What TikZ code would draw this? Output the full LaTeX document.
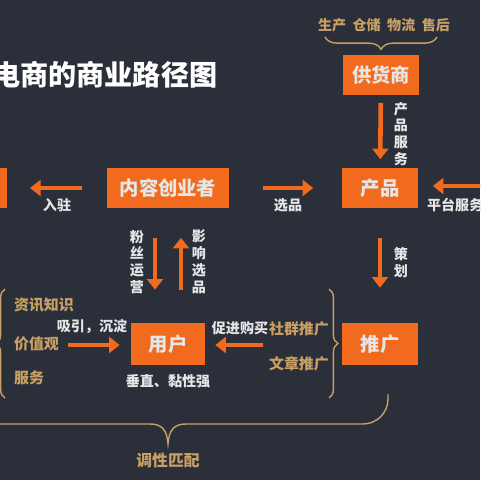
\documentclass[tikz,border=0pt]{standalone}
\usepackage{fontspec}
\setmainfont{Noto Sans CJK SC}
\usetikzlibrary{positioning,arrows.meta,decorations.pathreplacing}
\definecolor{bgnavy}{HTML}{2B2F3A}
\definecolor{boxorange}{HTML}{F26A1D}
\definecolor{goldtxt}{HTML}{C8A064}
\definecolor{softwhite}{HTML}{E6E6E6}
\tikzset{
  box/.style={fill=boxorange,text=softwhite,minimum width=1.54cm,minimum height=0.82cm,inner sep=0pt,font=\fontsize{11}{13}\selectfont\bfseries},
  flow/.style={boxorange,line width=2.6pt,-{Triangle[length=6pt,width=9pt]}},
  lbl/.style={text=softwhite,inner sep=1pt,font=\fontsize{8}{9}\selectfont\bfseries},
  vlbl/.style={lbl,align=center,font=\fontsize{8}{9.6}\selectfont\bfseries},
  gold/.style={text=goldtxt,inner sep=1pt,font=\fontsize{8.5}{10}\selectfont\bfseries},
  goldline/.style={goldtxt,line width=0.8pt},
  brc/.style={goldline,decorate,decoration={brace,amplitude=5pt}}
}
\begin{document}
\begin{tikzpicture}[x=0.02cm,y=-0.02cm]
  \useasboundingbox (0,0) rectangle (480,480);
  \clip (0,0) rectangle (480,480);
  \fill[bgnavy] (0,0) rectangle (480,480);
  % title
  \node(title) [anchor=west,text=white,inner sep=0pt,font=\fontsize{16}{18}\selectfont\bfseries] at (-8,75) {电商的商业路径图};
  % boxes
  \node(supplier) [box] at (381,75) {供货商};
  \node(product) [box] at (380,188) {产品};
  \node(creator) [box,minimum width=2.44cm] at (168,188) {内容创业者};
  \node(platform) [box,anchor=east] at (7,188) {};
  \node(user) [box,minimum height=0.84cm,minimum width=1.48cm] at (168,344) {用户};
  \node(promo) [box,minimum height=0.84cm] at (380,344) {推广};
  % supplier chain
  \node(chain) [gold,font=\fontsize{8}{9}\selectfont\bfseries] at (384,25) {生产\ \ 仓储\ \ 物流\ \ 售后};
  \draw [brc,decoration={amplitude=7pt}] (437,37) -- (325,37);
  \draw [flow,shorten <=0.14cm,shorten >=0.16cm] (supplier) -- (product);
  \node(svc) [vlbl] at (401,134) {产\\品\\服\\务};
  % platform services
  \coordinate(edge) at (484,186);
  \draw [flow,shorten >=0.28cm] (edge) -- (product.east |- edge);
  \node(plat) [lbl,anchor=west] at (425,205) {平台服务};
  % creator links
  \draw [flow,shorten <=0.68cm,shorten >=0.56cm] (creator) -- (product);
  \node(pick) [lbl] at (288,205) {选品};
  \draw [flow,shorten <=0.5cm,shorten >=0.46cm] (creator) -- (platform);
  \node(join) [lbl] at (57,205) {入驻};
  \draw [flow,shorten <=0.58cm,shorten >=0.66cm] ([xshift=-0.26cm]creator.south) -- ([xshift=-0.26cm]user.north);
  \draw [flow,shorten <=0.66cm,shorten >=0.58cm] ([xshift=0.26cm]user.north) -- ([xshift=0.26cm]creator.south);
  \node(fans) [vlbl] at (137,262) {粉\\丝\\运\\营};
  \node(sway) [vlbl] at (199,262) {影\\响\\选\\品};
  % planning
  \draw [flow,shorten <=0.58cm,shorten >=0.7cm] (product) -- (promo);
  \node(plan) [vlbl] at (401,263) {策\\划};
  % user side
  \node(info) [gold,anchor=west] at (12,305) {资讯知识};
  \node(value) [gold,anchor=west] at (12,344) {价值观};
  \node(serve) [gold,anchor=west] at (12,378) {服务};
  \draw [brc] (5,398) -- (5,289);
  \coordinate(draw) at (68,345);
  \draw [flow,shorten >=0.22cm] (draw) -- (user.west |- draw);
  \node(attract) [lbl] at (92,327) {吸引，沉淀};
  \node(sticky) [lbl] at (168,381) {垂直、黏性强};
  \coordinate(buy) at (263,345);
  \draw [flow,shorten >=0.2cm] (buy) -- (user.east |- buy);
  \node(push) [lbl] at (240,328) {促进购买};
  \node(group) [gold,anchor=west] at (267,329) {社群推广};
  \node(article) [gold,anchor=west] at (267,364) {文章推广};
  \draw [brc] (329,289) -- (329,398);
  % match
  \draw [goldline] (-5,424) -- (150,424) .. controls (162,424) and (167,430) .. (168,444)
    .. controls (169,430) and (174,424) .. (186,424) [rounded corners=0.5cm] -- (388,424) -- (388,394);
  \node(match) [gold,font=\fontsize{9}{10}\selectfont\bfseries] at (168,460) {调性匹配};
\end{tikzpicture}
\end{document}
